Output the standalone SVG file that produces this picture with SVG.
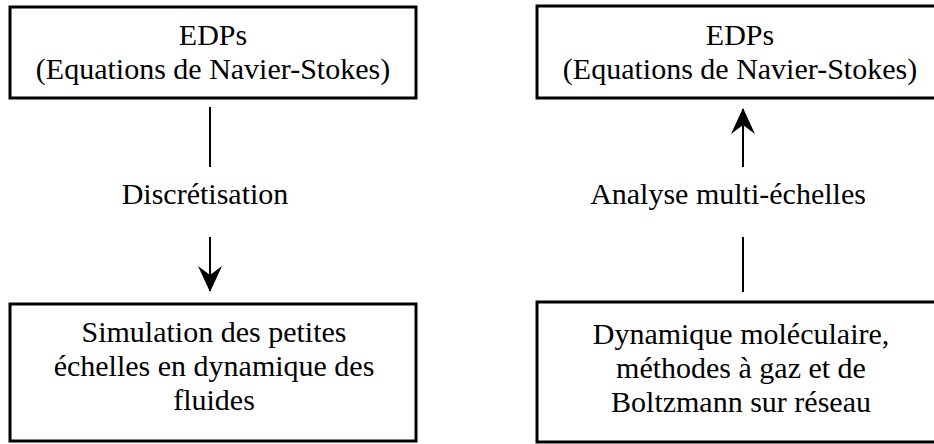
<svg xmlns="http://www.w3.org/2000/svg" width="934" height="444" viewBox="0 0 934 444">
<style>
.box{fill:#fff;stroke:#000;stroke-width:3}
.t{font-family:"Liberation Serif","Times New Roman",serif;font-size:30px;fill:#000;text-anchor:middle}
.ln{stroke:#000;stroke-width:2;fill:none}
</style>
<defs>
<marker id="ah" viewBox="0 0 26 24" refX="25" refY="12" markerWidth="26" markerHeight="24" markerUnits="userSpaceOnUse" orient="auto">
<path d="M0,0 L26,12 L0,24 L9,12 Z" fill="#000"/>
</marker>
</defs>
<rect width="934" height="444" fill="#fff"/>
<g id="n1">
<rect class="box" x="10" y="7" width="406" height="91"/>
<text class="t" x="213" y="45">EDPs</text>
<text class="t" x="213" y="79">(Equations de Navier-Stokes)</text>
</g>
<g id="n2">
<rect class="box" x="537" y="6" width="406" height="92"/>
<text class="t" x="740" y="45">EDPs</text>
<text class="t" x="740" y="79">(Equations de Navier-Stokes)</text>
</g>
<g id="n3">
<rect class="box" x="10" y="304" width="406" height="137"/>
<text class="t" x="214" y="342">Simulation des petites</text>
<text class="t" x="214" y="376">échelles en dynamique des</text>
<text class="t" x="214" y="410">fluides</text>
</g>
<g id="n4">
<rect class="box" x="537" y="302" width="406" height="140"/>
<text class="t" x="741" y="344">Dynamique moléculaire,</text>
<text class="t" x="741" y="378">méthodes à gaz et de</text>
<text class="t" x="741" y="412">Boltzmann sur réseau</text>
</g>
<g id="connectors">
<line class="ln" x1="210" y1="107" x2="210" y2="167"/>
<line class="ln" x1="210" y1="237" x2="210" y2="291" marker-end="url(#ah)"/>
<text class="t" x="205" y="204">Discrétisation</text>
<line class="ln" x1="743" y1="292" x2="743" y2="237"/>
<line class="ln" x1="743" y1="167" x2="743" y2="109" marker-end="url(#ah)"/>
<text class="t" x="728" y="204">Analyse multi-échelles</text>
</g>
</svg>
